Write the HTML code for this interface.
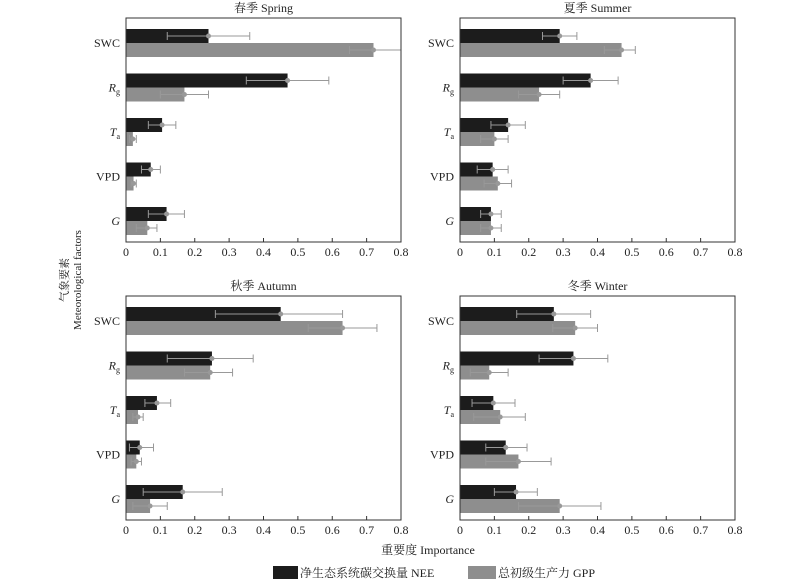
<!DOCTYPE html>
<html><head><meta charset="utf-8"><style>
body{margin:0;background:#fff}
svg{display:block}
text{font-family:"Liberation Serif","Noto Serif CJK SC",serif;fill:#222}
</style></head><body>
<svg id="s" width="800" height="584" xmlns="http://www.w3.org/2000/svg"></svg>
<script>
const S=document.getElementById('s');let h='';
const panels=[
 {x:126,y:18,t:'春季 Spring',d:[[.24,.12,.36,.72,.65,.80],[.47,.35,.59,.17,.10,.24],[.105,.065,.145,.02,.01,.03],[.072,.045,.10,.022,.015,.03],[.118,.065,.17,.062,.03,.09]]},
 {x:460,y:18,t:'夏季 Summer',d:[[.29,.24,.34,.47,.42,.51],[.38,.30,.46,.23,.17,.29],[.14,.09,.19,.10,.06,.14],[.095,.05,.14,.11,.07,.15],[.09,.06,.12,.09,.06,.12]]},
 {x:126,y:296,t:'秋季 Autumn',d:[[.45,.26,.63,.63,.53,.73],[.25,.12,.37,.245,.17,.31],[.09,.055,.13,.035,.02,.05],[.04,.01,.08,.03,.015,.045],[.165,.05,.28,.07,.02,.12]]},
 {x:460,y:296,t:'冬季 Winter',d:[[.273,.165,.38,.335,.27,.40],[.33,.23,.43,.085,.03,.14],[.097,.035,.16,.117,.04,.19],[.133,.075,.195,.17,.075,.265],[.163,.10,.225,.29,.17,.41]]}
];
const W=275,H=224,k=W/0.8;
const labs=['SWC','<tspan font-style="italic">R</tspan><tspan font-size="8" dy="3">g</tspan>','<tspan font-style="italic">T</tspan><tspan font-size="8" dy="3">a</tspan>','VPD','<tspan font-style="italic">G</tspan>'];
panels.forEach(p=>{
 h+=`<text x="${p.x+W/2}" y="${p.y-6}" font-size="12" text-anchor="middle">${p.t}</text>`;
 p.d.forEach((r,i)=>{
  const y0=p.y+11+i*44.5;
  [[r[0],r[1],r[2],'#1c1c1c',y0],[r[3],r[4],r[5],'#8e8e8e',y0+14]].forEach(b=>{
   const bx=p.x,w=b[0]*k,cy=b[4]+7;
   h+=`<rect x="${bx}" y="${b[4]}" width="${w}" height="14" fill="${b[3]}"/>`;
   const x1=p.x+b[1]*k,x2=p.x+b[2]*k;
   h+=`<line x1="${x1}" y1="${cy}" x2="${x2}" y2="${cy}" stroke="#999" stroke-width="1"/>`;
   h+=`<line x1="${x1}" y1="${cy-4}" x2="${x1}" y2="${cy+4}" stroke="#999"/><line x1="${x2}" y1="${cy-4}" x2="${x2}" y2="${cy+4}" stroke="#999"/>`;
   h+=`<circle cx="${bx+w}" cy="${cy}" r="2.5" fill="#999"/>`;
  });
  h+=`<text x="${p.x-6}" y="${y0+18}" font-size="12" text-anchor="end">${labs[i]}</text>`;
 });
 h+=`<rect x="${p.x}" y="${p.y}" width="${W}" height="${H}" fill="none" stroke="#333" stroke-width="1"/>`;
 for(let j=0;j<=8;j++){const tx=p.x+j*W/8;
  h+=`<line x1="${tx}" y1="${p.y+H}" x2="${tx}" y2="${p.y+H-4}" stroke="#333"/>`;
  h+=`<text x="${tx}" y="${p.y+H+14}" font-size="12" text-anchor="middle">${j?('0.'+j).replace('0.8','0.8'):'0'}</text>`;}
});
h+=`<text transform="translate(68,280) rotate(-90)" font-size="11" text-anchor="middle">气象要素</text>`;
h+=`<text transform="translate(81,280) rotate(-90)" font-size="11" text-anchor="middle">Meteorological factors</text>`;
h+=`<text x="428" y="554" font-size="12" text-anchor="middle">重要度 Importance</text>`;
h+=`<rect x="273" y="566" width="25" height="13" fill="#1c1c1c"/><text x="300" y="577" font-size="12">净生态系统碳交换量 NEE</text>`;
h+=`<rect x="468" y="566" width="28" height="13" fill="#8e8e8e"/><text x="498" y="577" font-size="12">总初级生产力 GPP</text>`;
S.innerHTML=h;
</script>
</body></html>
